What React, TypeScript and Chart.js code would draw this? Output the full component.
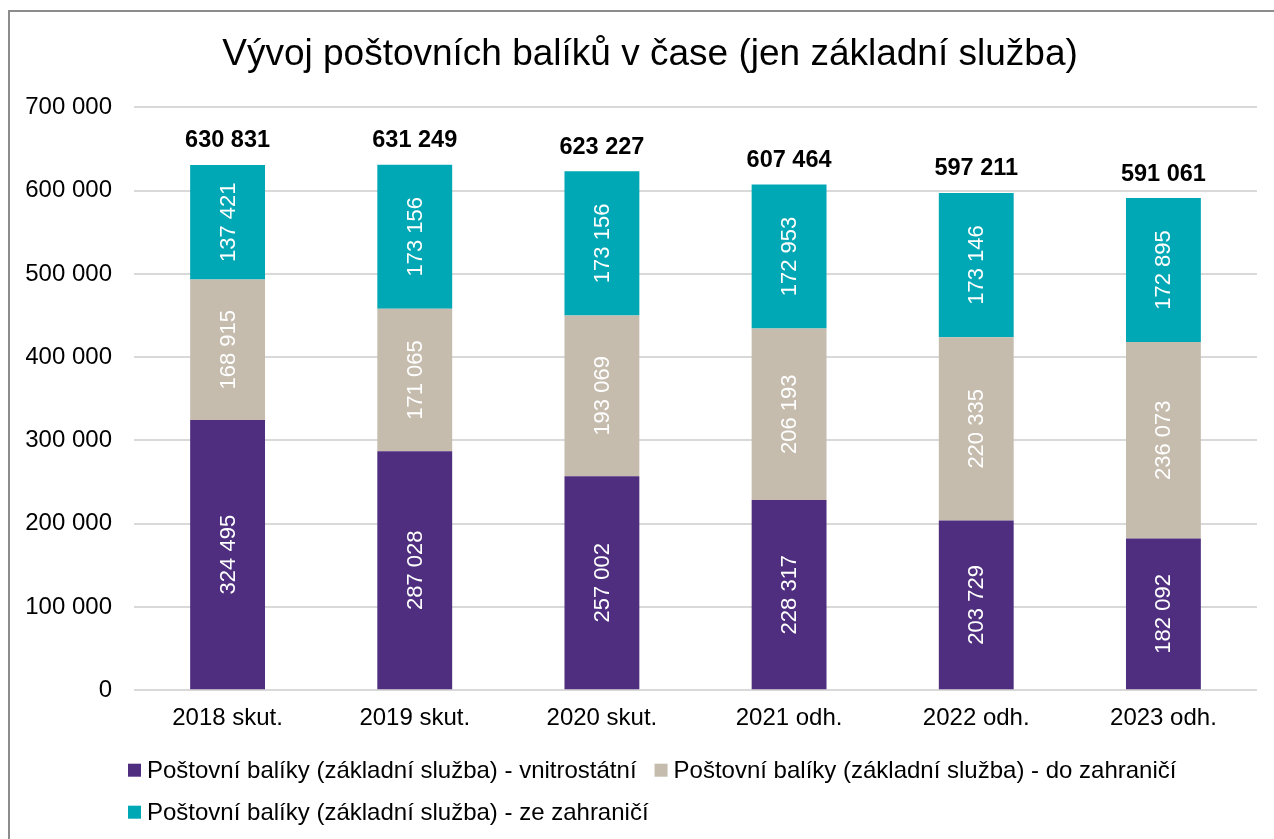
import React, { useEffect, useRef } from 'react';
import { Chart, registerables } from 'chart.js';

Chart.register(...registerables);

const categories = ['2018 skut.', '2019 skut.', '2020 skut.', '2021 odh.', '2022 odh.', '2023 odh.'];
const domestic = [324495, 287028, 257002, 228317, 203729, 182092];
const outbound = [168915, 171065, 193069, 206193, 220335, 236073];
const inbound = [137421, 173156, 173156, 172953, 173146, 172895];
const totals = [630831, 631249, 623227, 607464, 597211, 591061];
const seriesLabels = [
  'Poštovní balíky (základní služba) - vnitrostátní',
  'Poštovní balíky (základní služba) - do zahraničí',
  'Poštovní balíky (základní služba) - ze zahraničí',
];
const seriesColors = ['#4F2E7F', '#C5BCAE', '#00A7B5'];
const titleText = 'Vývoj poštovních balíků v čase (jen základní služba)';
const yMax = 700000;
const yStep = 100000;

const FONT = "'Liberation Sans', Arial, sans-serif";

const fmt = (v: number) => Math.round(v).toString().replace(/\B(?=(\d{3})+(?!\d))/g, ' ');

const labelsPlugin = {
  id: 'customLabels',
  afterLayout(chart: any) {
    const t = chart.titleBlock;
    if (t) {
      t.left += 8.5;
      t.right += 8.5;
    }
  },
  afterDatasetsDraw(chart: any) {
    const ctx = chart.ctx;
    ctx.save();
    chart.data.datasets.forEach((ds: any, di: number) => {
      const meta = chart.getDatasetMeta(di);
      meta.data.forEach((bar: any, i: number) => {
        const v = ds.data[i];
        const cy = (bar.y + bar.base) / 2;
        ctx.save();
        ctx.translate(bar.x, cy);
        ctx.rotate(-Math.PI / 2);
        ctx.fillStyle = '#ffffff';
        ctx.font = `22px ${FONT}`;
        ctx.textAlign = 'center';
        ctx.textBaseline = 'middle';
        ctx.fillText(fmt(v), 0, 1);
        ctx.restore();
      });
    });
    const last = chart.getDatasetMeta(chart.data.datasets.length - 1);
    last.data.forEach((bar: any, i: number) => {
      ctx.fillStyle = '#000000';
      ctx.font = `bold 23.5px ${FONT}`;
      ctx.textAlign = 'center';
      ctx.textBaseline = 'middle';
      ctx.fillText(fmt(totals[i]), bar.x, bar.y - 24);
    });
    ctx.restore();
  },
  afterDraw(chart: any) {
    const ctx = chart.ctx;
    const area = chart.chartArea;
    ctx.save();
    ctx.font = `24px ${FONT}`;
    ctx.textBaseline = 'middle';
    const startX = area.left - 6;
    const maxX = area.right;
    const box = 13;
    const gapBoxText = 6;
    const gapItems = 18;
    let x = startX;
    let y = area.bottom + 80;
    const rowH = 42;
    chart.data.datasets.forEach((ds: any) => {
      const tw = ctx.measureText(ds.label).width;
      const w = box + gapBoxText + tw;
      if (x + w > maxX && x !== startX) {
        x = startX;
        y += rowH;
      }
      ctx.fillStyle = ds.backgroundColor;
      ctx.fillRect(x, y - box / 2, box, box);
      ctx.fillStyle = '#000000';
      ctx.textAlign = 'left';
      ctx.fillText(ds.label, x + box + gapBoxText, y + 1);
      x += w + gapItems;
    });
    ctx.restore();
  },
};

function App() {
  const ref = useRef<HTMLCanvasElement | null>(null);

  useEffect(() => {
    if (!ref.current) return;
    const chart = new Chart(ref.current, {
      type: 'bar',
      data: {
        labels: categories,
        datasets: [
          { label: seriesLabels[0], data: domestic, backgroundColor: seriesColors[0] },
          { label: seriesLabels[1], data: outbound, backgroundColor: seriesColors[1] },
          { label: seriesLabels[2], data: inbound, backgroundColor: seriesColors[2] },
        ],
      },
      options: {
        responsive: false,
        maintainAspectRatio: false,
        animation: false,
        datasets: {
          bar: { categoryPercentage: 1, barPercentage: 0.4 },
        },
        layout: { padding: { left: 16, right: 39, top: 0, bottom: 101 } },
        plugins: {
          legend: { display: false },
          tooltip: { enabled: false },
          title: {
            display: true,
            text: titleText,
            color: '#000000',
            font: { family: FONT, size: 37, weight: 'normal' },
            padding: { top: 21, bottom: 30 },
          },
        },
        scales: {
          x: {
            stacked: true,
            grid: { display: false, drawTicks: false },
            border: { display: false },
            ticks: { color: '#000000', font: { family: FONT, size: 24 }, padding: 14 },
          },
          y: {
            stacked: true,
            min: 0,
            max: yMax,
            grid: { color: '#d9d9d9', lineWidth: 2, drawTicks: false },
            border: { display: false },
            afterFit: (scale: any) => {
              scale.width = 108;
            },
            ticks: {
              stepSize: yStep,
              color: '#000000',
              font: { family: FONT, size: 24 },
              padding: 22,
              callback: (v: any) => fmt(Number(v)),
            },
          },
        },
      },
      plugins: [labelsPlugin],
    });
    return () => chart.destroy();
  }, []);

  return (
    <div style={{ position: 'fixed', left: 0, top: 0, width: 1274, height: 839, overflow: 'hidden', background: '#fff' }}>
      <div
        style={{
          position: 'absolute',
          left: 8,
          top: 10,
          width: 1286,
          height: 836,
          border: '2px solid #8c8c8c',
          background: '#fff',
        }}
      >
        <canvas ref={ref} width={1286} height={836} style={{ display: 'block' }} />
      </div>
    </div>
  );
}

export default App;
